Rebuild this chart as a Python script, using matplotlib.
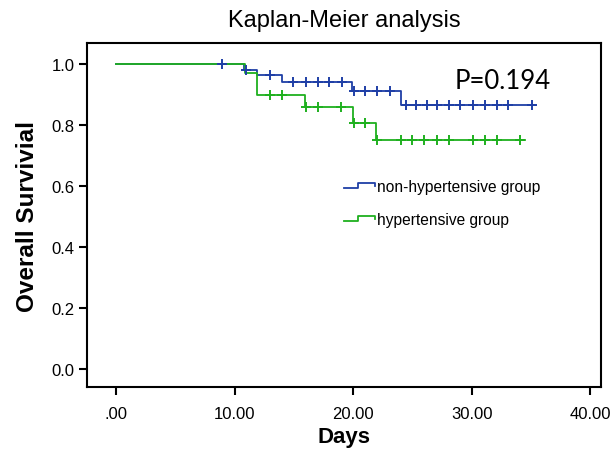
import numpy as np
import matplotlib.pyplot as plt
from matplotlib.legend_handler import HandlerBase
from matplotlib.lines import Line2D

# Kaplan-Meier step data (days, survival)
nonhyp_t = [0, 10.8, 11.9, 14.0, 19.9, 24.0, 35.3]
nonhyp_s = [1.0, 0.983, 0.964, 0.943, 0.913, 0.868, 0.868]
nonhyp_cens = [8.9, 11.0, 13.0, 14.9, 16.0, 17.0, 18.0, 19.1, 20.1, 21.0, 22.0,
               23.1, 24.5, 25.3, 26.2, 27.1, 28.1, 29.0, 30.1, 31.1, 32.1, 33.1, 35.1]

hyp_t = [0, 10.9, 11.9, 15.9, 20.0, 21.9, 34.5]
hyp_s = [1.0, 0.97, 0.899, 0.86, 0.806, 0.751, 0.751]
hyp_cens = [13.0, 14.0, 16.0, 17.0, 19.0, 20.1, 21.0, 22.0, 24.0, 25.0, 26.0,
            27.1, 28.1, 30.1, 31.1, 32.1, 34.1]

p_text = "P=0.194"
xticks = [0, 10, 20, 30, 40]
xticklabels = [".00", "10.00", "20.00", "30.00", "40.00"]
yticks = [0.0, 0.2, 0.4, 0.6, 0.8, 1.0]

blue = "#1f3fa6"
green = "#1fb01f"

plt.rcParams['font.family'] = ['Liberation Sans', 'DejaVu Sans']


def level_at(times, surv, t):
    # survival value of the step function at time t
    idx = np.searchsorted(times, t, side='right') - 1
    return np.array(surv)[idx]


class StepHandler(HandlerBase):
    def create_artists(self, legend, orig_handle, xdescent, ydescent,
                       width, height, fontsize, trans):
        w, h = width, height
        x = np.array([0, 0.45, 0.45, 1.0, 1.0]) * w - xdescent
        y = np.array([0.3, 0.3, 0.75, 0.75, 0.45]) * h - ydescent
        ln = Line2D(x, y, color=orig_handle.get_color(), lw=1.3, transform=trans)
        return [ln]


fig = plt.figure(figsize=(6.14, 4.6), dpi=100)
ax = fig.add_axes([0.1417, 0.1565, 0.837, 0.7478])

l1, = ax.step(nonhyp_t, nonhyp_s, where='post', color=blue, lw=1.3,
              label='non-hypertensive group')
l2, = ax.step(hyp_t, hyp_s, where='post', color=green, lw=1.3,
              label='hypertensive group')

ax.plot(nonhyp_cens, level_at(nonhyp_t, nonhyp_s, nonhyp_cens), ls='none',
        marker='+', ms=7.5, mew=1.4, color=blue)
ax.plot(hyp_cens, level_at(hyp_t, hyp_s, hyp_cens), ls='none',
        marker='+', ms=7.5, mew=1.4, color=green)

ax.set_xlim(-2.45, 40.9)
ax.set_ylim(-0.06, 1.07)
ax.set_xticks(xticks)
ax.set_xticklabels(xticklabels)
ax.set_yticks(yticks)
ax.tick_params(direction='out', length=6, width=1.5, labelsize=12, pad=3)
ax.tick_params(axis='x', pad=8)
for sp in ax.spines.values():
    sp.set_linewidth(1.5)

ax.set_title("Kaplan-Meier analysis", fontsize=17, pad=12)
ax.set_xlabel("Days", fontsize=16, fontweight='bold', labelpad=3)
ax.set_ylabel("Overall Survivial", fontsize=17.5, fontweight='bold', labelpad=9)

ax.text(0.716, 0.869, p_text, transform=ax.transAxes, fontsize=18.5,
        family=['Lato', 'DejaVu Sans'])

ax.legend([l1, l2], [l1.get_label(), l2.get_label()],
          handler_map={Line2D: StepHandler()}, loc='upper left',
          bbox_to_anchor=(0.473, 0.645), frameon=False, fontsize=11.2,
          handlelength=2.0, handletextpad=0.1, labelspacing=1.15)

plt.savefig("out.png", dpi=100)
